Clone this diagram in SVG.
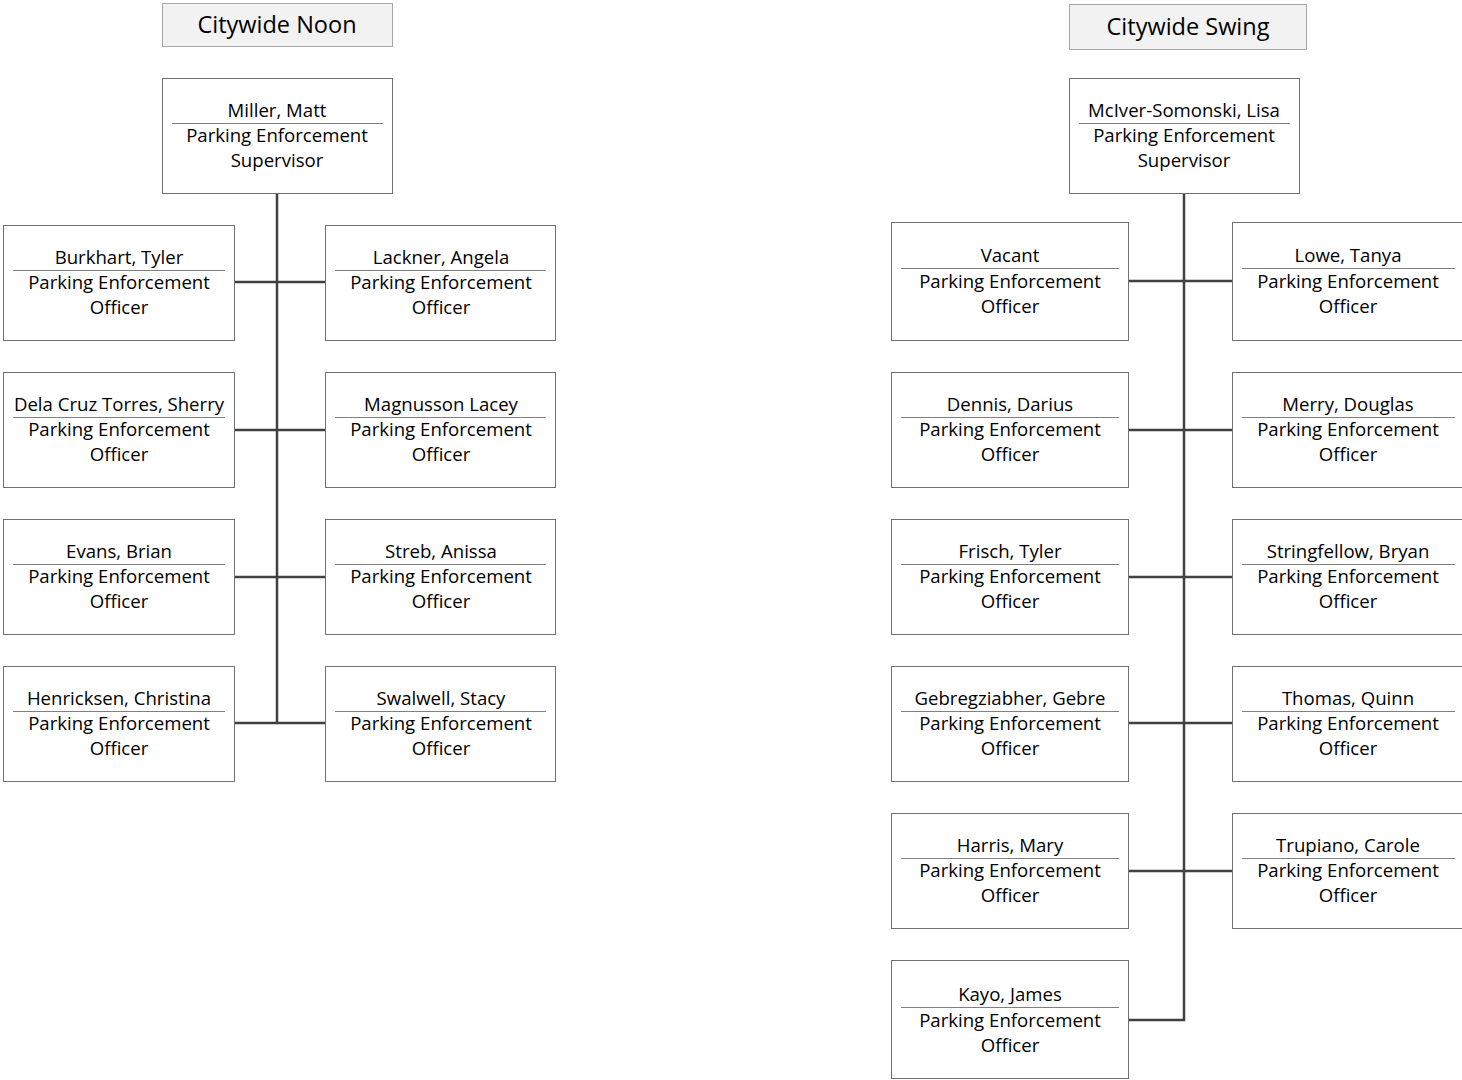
<svg xmlns="http://www.w3.org/2000/svg" width="1462" height="1080" viewBox="0 0 1462 1080">
<style>
.bg{fill:#ffffff}
.title rect{fill:#f2f2f2;stroke:#a6a6a6;stroke-width:1}
.title text{font-family:"Open Sans","Liberation Sans",sans-serif;font-size:23.5px;fill:#000;text-anchor:middle}
.node rect{fill:#ffffff;stroke:#707070;stroke-width:1}
.node line{stroke:#808080;stroke-width:1}
.node text{font-family:"Open Sans","Liberation Sans",sans-serif;font-size:18.6px;fill:#000;text-anchor:middle}
.conn path{fill:none;stroke:#404040;stroke-width:2.5}
</style>
<rect class="bg" x="0" y="0" width="1462" height="1080"/>
<g class="conn" id="connectors">
<path d="M277,193 V723"/>
<path d="M234,282 H325"/>
<path d="M234,430 H325"/>
<path d="M234,577 H325"/>
<path d="M234,723 H325"/>
<path d="M1184,193 V1020 H1128"/>
<path d="M1128,281 H1232"/>
<path d="M1128,430 H1232"/>
<path d="M1128,577 H1232"/>
<path d="M1128,723 H1232"/>
<path d="M1128,871 H1232"/>
</g>
<g class="title" id="title-noon"><rect x="162.5" y="3.5" width="230" height="43"/><text x="277" y="33">Citywide Noon</text></g>
<g class="title" id="title-swing"><rect x="1069.5" y="4.5" width="237" height="45"/><text x="1188" y="35">Citywide Swing</text></g>

<g class="node" id="miller"><rect x="162.5" y="78.5" width="230" height="115"/><line x1="172" y1="123.5" x2="383" y2="123.5"/><text x="277" y="117">Miller, Matt</text><text x="277" y="142">Parking Enforcement</text><text x="277" y="167">Supervisor</text></g>
<g class="node" id="burkhart"><rect x="3.5" y="225.5" width="231" height="115"/><line x1="13" y1="270.5" x2="225" y2="270.5"/><text x="119" y="264">Burkhart, Tyler</text><text x="119" y="289">Parking Enforcement</text><text x="119" y="314">Officer</text></g>
<g class="node" id="lackner"><rect x="325.5" y="225.5" width="230" height="115"/><line x1="335" y1="270.5" x2="546" y2="270.5"/><text x="441" y="264">Lackner, Angela</text><text x="441" y="289">Parking Enforcement</text><text x="441" y="314">Officer</text></g>
<g class="node" id="delacruz"><rect x="3.5" y="372.5" width="231" height="115"/><line x1="13" y1="417.5" x2="225" y2="417.5"/><text x="119" y="411">Dela Cruz Torres, Sherry</text><text x="119" y="436">Parking Enforcement</text><text x="119" y="461">Officer</text></g>
<g class="node" id="magnusson"><rect x="325.5" y="372.5" width="230" height="115"/><line x1="335" y1="417.5" x2="546" y2="417.5"/><text x="441" y="411">Magnusson Lacey</text><text x="441" y="436">Parking Enforcement</text><text x="441" y="461">Officer</text></g>
<g class="node" id="evans"><rect x="3.5" y="519.5" width="231" height="115"/><line x1="13" y1="564.5" x2="225" y2="564.5"/><text x="119" y="558">Evans, Brian</text><text x="119" y="583">Parking Enforcement</text><text x="119" y="608">Officer</text></g>
<g class="node" id="streb"><rect x="325.5" y="519.5" width="230" height="115"/><line x1="335" y1="564.5" x2="546" y2="564.5"/><text x="441" y="558">Streb, Anissa</text><text x="441" y="583">Parking Enforcement</text><text x="441" y="608">Officer</text></g>
<g class="node" id="henricksen"><rect x="3.5" y="666.5" width="231" height="115"/><line x1="13" y1="711.5" x2="225" y2="711.5"/><text x="119" y="705">Henricksen, Christina</text><text x="119" y="730">Parking Enforcement</text><text x="119" y="755">Officer</text></g>
<g class="node" id="swalwell"><rect x="325.5" y="666.5" width="230" height="115"/><line x1="335" y1="711.5" x2="546" y2="711.5"/><text x="441" y="705">Swalwell, Stacy</text><text x="441" y="730">Parking Enforcement</text><text x="441" y="755">Officer</text></g>

<g class="node" id="mciver"><rect x="1069.5" y="78.5" width="230" height="115"/><line x1="1079" y1="123.5" x2="1290" y2="123.5"/><text x="1184" y="117">McIver-Somonski, Lisa</text><text x="1184" y="142">Parking Enforcement</text><text x="1184" y="167">Supervisor</text></g>
<g class="node" id="vacant"><rect x="891.5" y="222.5" width="237" height="118"/><line x1="901" y1="268.5" x2="1119" y2="268.5"/><text x="1010" y="262">Vacant</text><text x="1010" y="288">Parking Enforcement</text><text x="1010" y="313">Officer</text></g>
<g class="node" id="lowe"><rect x="1232.5" y="222.5" width="232" height="118"/><line x1="1242" y1="268.5" x2="1455" y2="268.5"/><text x="1348" y="262">Lowe, Tanya</text><text x="1348" y="288">Parking Enforcement</text><text x="1348" y="313">Officer</text></g>
<g class="node" id="dennis"><rect x="891.5" y="372.5" width="237" height="115"/><line x1="901" y1="417.5" x2="1119" y2="417.5"/><text x="1010" y="411">Dennis, Darius</text><text x="1010" y="436">Parking Enforcement</text><text x="1010" y="461">Officer</text></g>
<g class="node" id="merry"><rect x="1232.5" y="372.5" width="232" height="115"/><line x1="1242" y1="417.5" x2="1455" y2="417.5"/><text x="1348" y="411">Merry, Douglas</text><text x="1348" y="436">Parking Enforcement</text><text x="1348" y="461">Officer</text></g>
<g class="node" id="frisch"><rect x="891.5" y="519.5" width="237" height="115"/><line x1="901" y1="564.5" x2="1119" y2="564.5"/><text x="1010" y="558">Frisch, Tyler</text><text x="1010" y="583">Parking Enforcement</text><text x="1010" y="608">Officer</text></g>
<g class="node" id="stringfellow"><rect x="1232.5" y="519.5" width="232" height="115"/><line x1="1242" y1="564.5" x2="1455" y2="564.5"/><text x="1348" y="558">Stringfellow, Bryan</text><text x="1348" y="583">Parking Enforcement</text><text x="1348" y="608">Officer</text></g>
<g class="node" id="gebregziabher"><rect x="891.5" y="666.5" width="237" height="115"/><line x1="901" y1="711.5" x2="1119" y2="711.5"/><text x="1010" y="705">Gebregziabher, Gebre</text><text x="1010" y="730">Parking Enforcement</text><text x="1010" y="755">Officer</text></g>
<g class="node" id="thomas"><rect x="1232.5" y="666.5" width="232" height="115"/><line x1="1242" y1="711.5" x2="1455" y2="711.5"/><text x="1348" y="705">Thomas, Quinn</text><text x="1348" y="730">Parking Enforcement</text><text x="1348" y="755">Officer</text></g>
<g class="node" id="harris"><rect x="891.5" y="813.5" width="237" height="115"/><line x1="901" y1="858.5" x2="1119" y2="858.5"/><text x="1010" y="852">Harris, Mary</text><text x="1010" y="877">Parking Enforcement</text><text x="1010" y="902">Officer</text></g>
<g class="node" id="trupiano"><rect x="1232.5" y="813.5" width="232" height="115"/><line x1="1242" y1="858.5" x2="1455" y2="858.5"/><text x="1348" y="852">Trupiano, Carole</text><text x="1348" y="877">Parking Enforcement</text><text x="1348" y="902">Officer</text></g>
<g class="node" id="kayo"><rect x="891.5" y="960.5" width="237" height="118"/><line x1="901" y1="1007.5" x2="1119" y2="1007.5"/><text x="1010" y="1001">Kayo, James</text><text x="1010" y="1027">Parking Enforcement</text><text x="1010" y="1052">Officer</text></g>
</svg>
